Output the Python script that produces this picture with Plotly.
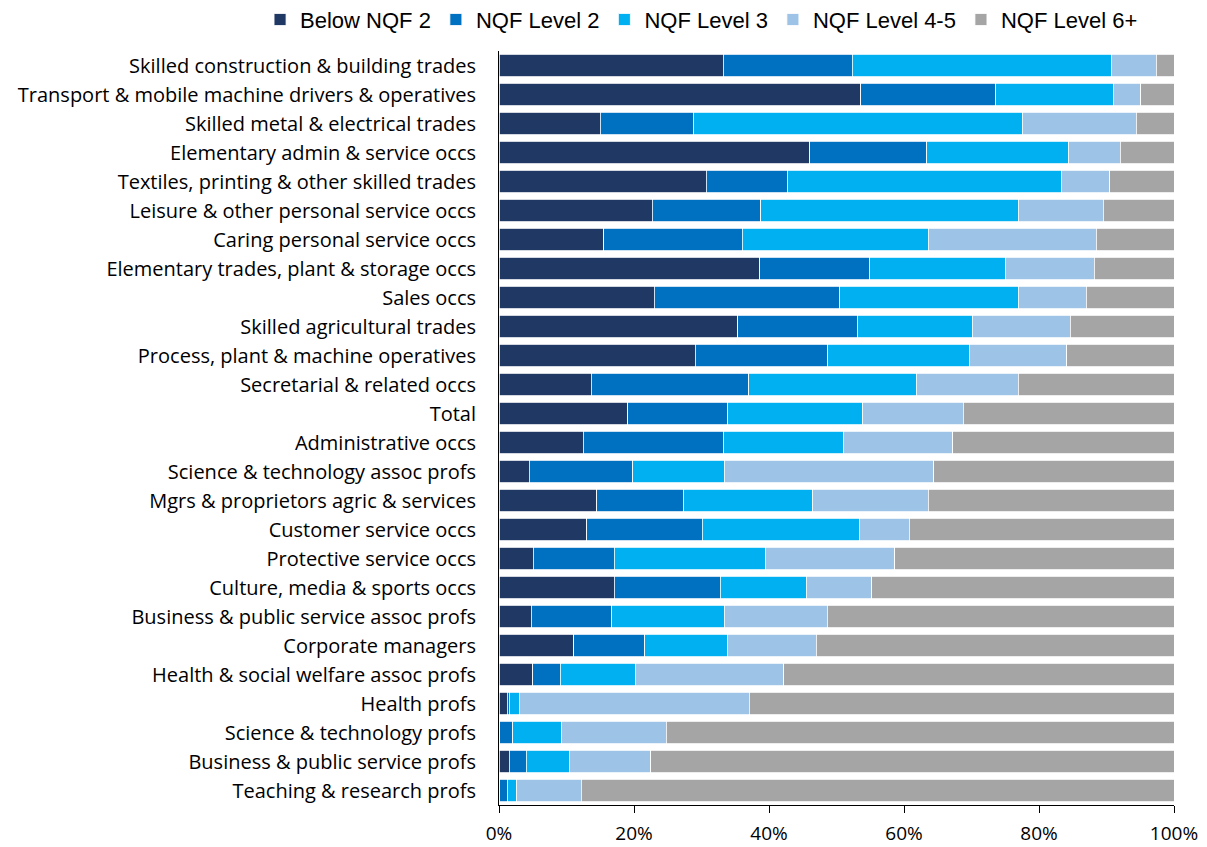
import plotly.graph_objects as go

categories = [
    "Skilled construction & building trades",
    "Transport & mobile machine drivers & operatives",
    "Skilled metal & electrical trades",
    "Elementary admin & service occs",
    "Textiles, printing & other skilled trades",
    "Leisure & other personal service occs",
    "Caring personal service occs",
    "Elementary trades, plant & storage occs",
    "Sales occs",
    "Skilled agricultural trades",
    "Process, plant & machine operatives",
    "Secretarial & related occs",
    "Total",
    "Administrative occs",
    "Science & technology assoc profs",
    "Mgrs & proprietors agric & services",
    "Customer service occs",
    "Protective service occs",
    "Culture, media & sports occs",
    "Business & public service assoc profs",
    "Corporate managers",
    "Health & social welfare assoc profs",
    "Health profs",
    "Science & technology profs",
    "Business & public service profs",
    "Teaching & research profs",
]

below_nqf2 = [33.2, 53.6, 15.0, 46.0, 30.7, 22.7, 15.5, 38.6, 23.0, 35.4, 29.1, 13.7, 19.1,
              12.5, 4.5, 14.5, 13.0, 5.1, 17.1, 4.8, 11.1, 5.0, 1.2, 0.1, 1.5, 0.1]
nqf_level2 = [19.1, 20.0, 13.8, 17.4, 12.0, 16.1, 20.5, 16.3, 27.5, 17.7, 19.6, 23.3, 14.8,
              20.7, 15.3, 12.8, 17.1, 12.0, 15.7, 11.9, 10.5, 4.1, 0.3, 1.9, 2.5, 1.1]
nqf_level3 = [38.4, 17.4, 48.7, 21.0, 40.6, 38.1, 27.6, 20.2, 26.4, 17.0, 21.0, 24.8, 20.0,
              17.9, 13.6, 19.2, 23.3, 22.4, 12.7, 16.7, 12.3, 11.1, 1.5, 7.3, 6.4, 1.4]
nqf_level45 = [6.7, 4.1, 16.9, 7.6, 7.2, 12.6, 24.9, 13.1, 10.1, 14.5, 14.4, 15.1, 14.9,
               16.1, 31.0, 17.1, 7.4, 19.1, 9.7, 15.2, 13.1, 22.0, 34.1, 15.5, 12.1, 9.6]
nqf_level6 = [2.6, 4.9, 5.6, 8.0, 9.5, 10.5, 11.5, 11.8, 13.0, 15.4, 15.9, 23.1, 31.2,
              32.8, 35.6, 36.4, 39.2, 41.4, 44.8, 51.4, 53.0, 57.8, 62.9, 75.2, 77.5, 87.8]

series_names = ["Below NQF 2", "NQF Level 2", "NQF Level 3", "NQF Level 4-5", "NQF Level 6+"]
series_values = [below_nqf2, nqf_level2, nqf_level3, nqf_level45, nqf_level6]
colors = ["#203864", "#0070C0", "#00B0F0", "#9DC3E6", "#A5A5A5"]

tick_vals = [0, 20, 40, 60, 80, 100]
tick_labels = ["0%", "20%", "40%", "60%", "80%", "100%"]

fig = go.Figure()
for name, vals, col in zip(series_names, series_values, colors):
    fig.add_trace(go.Bar(
        y=categories, x=vals, name=name, orientation="h",
        marker=dict(color=col, line=dict(color="white", width=0.8)),
    ))

# The page body adds an 8px offset, so the figure is 8px smaller on each axis
label_font = "Open Sans, Liberation Sans, Arial, sans-serif"
fig.update_layout(
    barmode="stack",
    bargap=0.24,
    width=1199, height=839,
    margin=dict(l=491, r=33, t=43, b=42, autoexpand=False),
    paper_bgcolor="white", plot_bgcolor="white",
    font=dict(family=label_font, size=20, color="#000000"),
    showlegend=True,
    legend=dict(
        orientation="h",
        x=-0.354, xanchor="left", y=1.0415, yanchor="middle",
        font=dict(family="Liberation Sans, Arial, sans-serif", size=22, color="#000000"),
        itemwidth=30, traceorder="normal", bgcolor="rgba(0,0,0,0)",
    ),
)
fig.update_xaxes(
    range=[0, 100], tickvals=tick_vals, ticktext=tick_labels,
    showgrid=False, zeroline=False,
    showline=True, linecolor="#000000", linewidth=1,
    ticks="outside", ticklen=7, tickcolor="#000000",
    ticklabelstandoff=4,
    tickfont=dict(size=19),
)
fig.update_yaxes(
    autorange="reversed", showgrid=False, zeroline=False,
    showline=True, linecolor="#000000", linewidth=1,
    ticks="", ticklabelstandoff=18, tickfont=dict(size=20),
)

fig.write_html("out.html")
